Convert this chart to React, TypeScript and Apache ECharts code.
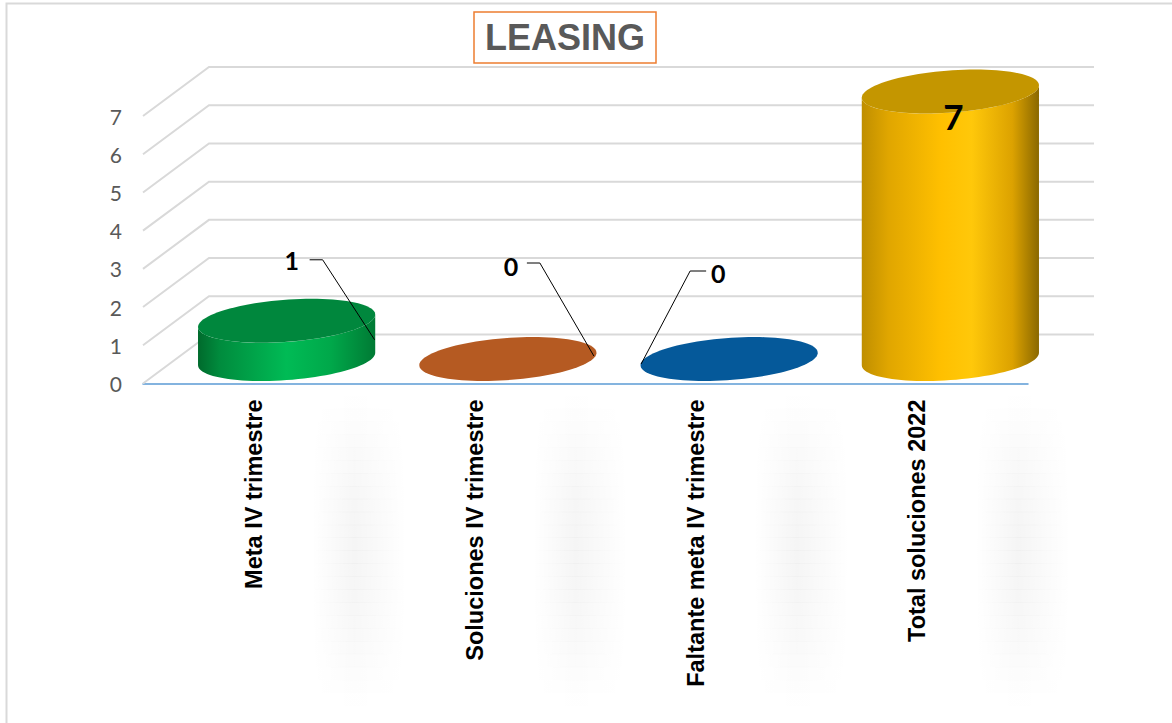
import React, { useEffect, useRef } from "react";
import * as echarts from "echarts";

const TITLE = "LEASING";
const CATEGORIES = [
  "Meta IV trimestre",
  "Soluciones IV trimestre",
  "Faltante meta IV trimestre",
  "Total soluciones 2022",
];
const VALUES = [1, 0, 0, 7];
const Y_TICKS = [0, 1, 2, 3, 4, 5, 6, 7];

// styles
const TOP_COLORS = ["#00873D", "#B55A22", "#05599A", "#C49600"];
const SIDE_STOPS = [
  [
    [0, "#006A2C"],
    [0.12, "#008B3D"],
    [0.5, "#00BB55"],
    [0.75, "#00A84A"],
    [1, "#007A34"],
  ],
  [
    [0, "#B55A22"],
    [1, "#B55A22"],
  ],
  [
    [0, "#05599A"],
    [1, "#05599A"],
  ],
  [
    [0, "#BF8E00"],
    [0.15, "#E0A600"],
    [0.45, "#FFC000"],
    [0.62, "#FFC80A"],
    [0.85, "#DCA200"],
    [1, "#8A6800"],
  ],
];
// label placement relative to top centre of each cylinder
const LABEL_LAYOUT = [
  { dx: 5, dy: -61, size: 25, line: [[23, -61], [36, -61], [88, 19]] },
  { dx: 3, dy: -93, size: 25, line: [[19, -96], [32, -96], [86, -3]] },
  { dx: -11, dy: -86, size: 25, line: [[-23, -88], [-39, -88], [-88, 5]] },
  { dx: 3, dy: 24, size: 35, line: null as null | number[][] },
];

const DX = 66; // depth offset x
const DY = -49; // depth offset y
const EA = 85; // ellipse x radius
const EB = 25; // ellipse shear (depth x)
const EC = 22; // ellipse depth y

function ellPts(cx: number, cy: number, t0: number, t1: number, n: number) {
  const pts: number[][] = [];
  for (let k = 0; k <= n; k++) {
    const t = t0 + ((t1 - t0) * k) / n;
    pts.push([cx + EA * Math.cos(t) + EB * Math.sin(t), cy - EC * Math.sin(t)]);
  }
  return pts;
}

function grad(stops: any[]) {
  return {
    type: "linear",
    x: 0,
    y: 0,
    x2: 1,
    y2: 0,
    colorStops: stops.map((s) => ({ offset: s[0], color: s[1] })),
  };
}

function softStrip(x: number, y: number, w: number, h: number) {
  const n = 24;
  const sh = h / n;
  const out: any[] = [];
  for (let k = 0; k < n; k++) {
    const f = Math.sin((Math.PI * (k + 0.5)) / n);
    const a = (0.04 * f).toFixed(4);
    out.push({
      type: "rect",
      silent: true,
      shape: { x, y: y + k * sh, width: w, height: sh + 0.5 },
      style: {
        fill: {
          type: "linear",
          x: 0,
          y: 0,
          x2: 1,
          y2: 0,
          colorStops: [
            { offset: 0, color: "rgba(0,0,0,0)" },
            { offset: 0.45, color: `rgba(0,0,0,${a})` },
            { offset: 1, color: "rgba(0,0,0,0)" },
          ],
        },
      },
    });
  }
  return out;
}

export default function App() {
  const ref = useRef<HTMLDivElement>(null);
  useEffect(() => {
    const chart = echarts.init(ref.current!, null, { renderer: "svg" });
    const option: any = {
      animation: false,
      backgroundColor: "#ffffff",
      title: {
        text: TITLE,
        left: 474,
        top: 12,
        padding: [5, 11, 5, 11],
        borderColor: "#ED7D31",
        borderWidth: 1.5,
        backgroundColor: "#ffffff",
        textStyle: {
          fontFamily: "Liberation Sans",
          fontWeight: "bold",
          fontSize: 36,
          lineHeight: 41,
          color: "#595959",
        },
        z: 10,
      },
      graphic: [
        {
          type: "rect",
          silent: true,
          shape: { x: 6.5, y: 3.5, width: 1300, height: 900 },
          style: { fill: "none", stroke: "#D9D9D9", lineWidth: 2 },
          z: -10,
        },
      ],
      grid: { left: 143, right: 144, top: 116, bottom: 339.5 },
      xAxis: {
        type: "category",
        data: CATEGORIES,
        axisLine: { lineStyle: { color: "#5B9BD5", width: 1.5 } },
        axisTick: { show: false },
        axisLabel: {
          interval: 0,
          rotate: 90,
          margin: 16,
          fontFamily: "Liberation Sans",
          fontWeight: "bold",
          fontSize: 23.5,
          color: "#000000",
        },
        splitLine: { show: false },
      },
      yAxis: {
        type: "value",
        min: 0,
        max: 7,
        interval: 1,
        axisLine: { show: false },
        axisTick: { show: false },
        splitLine: { show: false },
        axisLabel: {
          margin: 21,
          fontFamily: "Lato",
          fontSize: 21,
          color: "#595959",
        },
      },
      series: [
        {
          type: "custom",
          name: "grid3d",
          silent: true,
          clip: false,
          z: 1,
          data: Y_TICKS.map((v) => [0, v]),
          encode: { x: 0, y: 1 },
          renderItem: (params: any, api: any) => {
            const cs = params.coordSys;
            const y = api.coord([0, api.value(1)])[1];
            const x0 = cs.x;
            const x1 = cs.x + cs.width;
            return {
              type: "polyline",
              shape: { points: [[x0, y], [x0 + DX, y + DY], [x1 + DX, y + DY]] },
              style: { stroke: "#D9D9D9", lineWidth: 2, fill: null },
            };
          },
        },
        {
          type: "custom",
          name: "cylinders",
          clip: false,
          z: 3,
          data: VALUES.map((v, i) => [i, v]),
          encode: { x: 0, y: 1 },
          renderItem: (params: any, api: any) => {
            const i = params.dataIndex;
            const v = api.value(1);
            const base = api.coord([i, 0]);
            const top = api.coord([i, v]);
            const cx = base[0] + DX / 2;
            const by = base[1] + DY / 2;
            const ty = top[1] + DY / 2;
            const tR = Math.atan2(EB, EA);
            const tL = tR + Math.PI;
            const bottomArc = ellPts(cx, by, tL, tR + 2 * Math.PI, 48);
            const topArc = ellPts(cx, ty, tR + 2 * Math.PI, tL, 48);
            const side = bottomArc.concat(topArc);
            const topEll = ellPts(cx, ty, 0, 2 * Math.PI, 96);
            const lay = LABEL_LAYOUT[i];
            const children: any[] = softStrip(base[0] + 58, base[1] + 12, 95, 310);
            children.push(
              {
                type: "polygon",
                shape: { points: side },
                style: { fill: grad(SIDE_STOPS[i]) },
              },
              {
                type: "polygon",
                shape: { points: topEll },
                style: { fill: TOP_COLORS[i] },
              }
            );
            if (lay.line) {
              children.push({
                type: "polyline",
                shape: { points: lay.line.map((p) => [cx + p[0], ty + p[1]]) },
                style: { stroke: "#000000", lineWidth: 1, fill: null },
              });
            }
            children.push({
              type: "text",
              x: cx + lay.dx,
              y: ty + lay.dy,
              style: {
                text: String(VALUES[i]),
                fontFamily: "Lato",
                fontWeight: "bold",
                fontSize: lay.size,
                fill: "#000000",
                align: "center",
                verticalAlign: "middle",
              },
            });
            return { type: "group", children };
          },
        },
      ],
    };
    chart.setOption(option);
    return () => chart.dispose();
  }, []);
  return (
    <div
      ref={ref}
      style={{ position: "absolute", left: 0, top: 0, width: 1172, height: 723, background: "#fff" }}
    />
  );
}
